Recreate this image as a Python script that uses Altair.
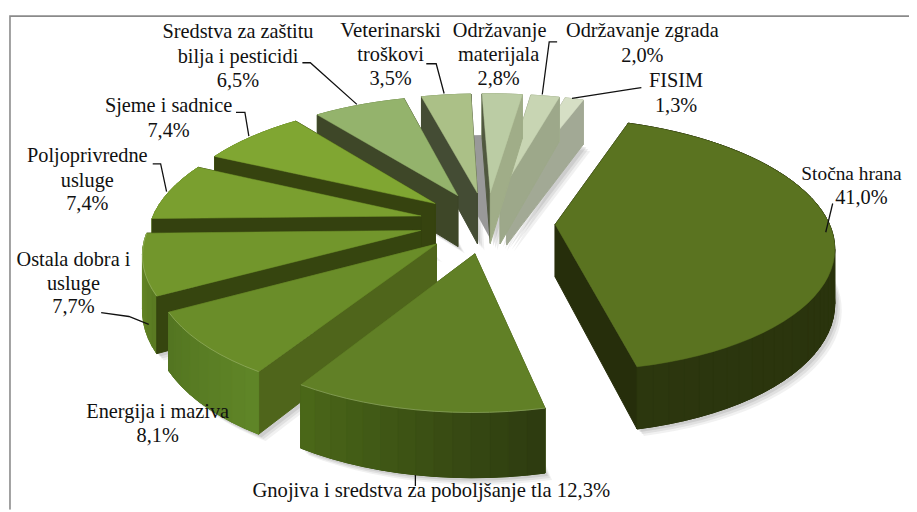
import math
import altair as alt

# ---- values ----
names = ["Stočna hrana", "Gnojiva i sredstva za poboljšanje tla", "Energija i maziva",
         "Ostala dobra i usluge", "Poljoprivredne usluge", "Sjeme i sadnice",
         "Sredstva za zaštitu bilja i pesticidi", "Veterinarski troškovi",
         "Održavanje materijala", "Održavanje zgrada", "FISIM"]
shares = [41.0, 12.3, 8.1, 7.7, 7.4, 7.4, 6.5, 3.5, 2.8, 2.0, 1.3]

# ---- styles ----
top_col = ["#5a7320", "#618026", "#6a8d29", "#72962c", "#7a9f2f", "#80a632",
           "#94b36c", "#abc087", "#bbcca4", "#c8d5b3", "#d6dfc5"]
start_wall = ["#262e0b", "#4a6018", "#4f651b", "#36450f", "#34410f", "#36430f",
              "#3e4728", "#444c34", "#50583f", "#8f9a7c", "#a2a995"]
end_wall = ["#262e0b", "#4a6018", "#4f651b", "#36450f", "#34410f", "#36430f",
            "#3e4728", "#444c34", "#a0ad88", "#9da88a", "#a2a995"]
rim_a = ["#262e0b", "#2e3c10", "#5f8527", "#5a7a22", "#6f922c", "#6f922c",
         "#7f9a5c", "#93a876", "#a3b48c", "#aebb9a", "#bcc5aa"]
rim_b = ["#2c370e", "#4c6a19", "#527320", "#6f922c", "#6f922c", "#6f922c",
         "#7f9a5c", "#93a876", "#a3b48c", "#aebb9a", "#bcc5aa"]

# ---- 3D layout of the pie (page pixels) ----
CX, CY, RX, KR, PERSP, DEPTH, EXPLODE, ROT = 491, 222, 276, 124, 0.156, 53, 0.25, 20
WEST = 0.988
PAGE = 8


def proj(X, Y, drop=0.0):
    s = 1 / (1 + PERSP * Y)
    w = WEST if X < 0 else 1.0
    return [CX + RX * X * s * w - PAGE, CY - KR * Y * s + drop * s - PAGE]


def feat(coords, fill, stroke=None, opacity=1.0, sw=1.0):
    kind = "Polygon" if fill != "transparent" else "LineString"
    geom = {"type": kind, "coordinates": [coords + [coords[0]]] if kind == "Polygon" else coords}
    return {"type": "Feature", "geometry": geom,
            "properties": {"fill": fill, "stroke": stroke or fill, "op": opacity, "sw": sw}}


def mix(a, b, t):
    ca = [int(a[i:i + 2], 16) for i in (1, 3, 5)]
    cb = [int(b[i:i + 2], 16) for i in (1, 3, 5)]
    return "#" + "".join(f"{round(x + (y - x) * t):02x}" for x, y in zip(ca, cb))


def ang(a):
    r = math.radians(a)
    return math.sin(r), math.cos(r)


spans, acc = [], ROT
for v in shares:
    spans.append((acc, acc + v * 3.6))
    acc += v * 3.6

shadows, bodies = [], {}
for i, (a0, a1) in enumerate(spans):
    ox, oy = ang((a0 + a1) / 2)
    ox, oy = ox * EXPLODE, oy * EXPLODE
    n = max(3, int((a1 - a0) / 3))
    arc = [a0 + (a1 - a0) * j / n for j in range(n + 1)]
    rim = [(ox + ang(t)[0], oy + ang(t)[1]) for t in arc]
    apex = (ox, oy)
    poly = [apex] + rim
    top = [proj(x, y) for x, y in poly]
    bottom = [proj(x, y, DEPTH) for x, y in poly]
    # soft shadow
    for off, op in ((7, 0.10), (5, 0.14), (3, 0.18)):
        shadows.append(feat([[p[0] + off, p[1] + off] for p in bottom], "#7a7a7a", opacity=op, sw=0))
    if i == 7:
        shadows.append(feat([[p[0] + 14, p[1] - 3] for p in bottom], "#999999", sw=0))
    walls = []

    def wall(p, q, col, ny):
        walls.append((ny, feat([proj(*p), proj(*q), proj(*q, DEPTH), proj(*p, DEPTH)], col)))

    wall(apex, rim[0], start_wall[i], ang(a0 - 90)[1])
    wall(apex, rim[-1], end_wall[i], ang(a1 + 90)[1])
    for j in range(n):
        wall(rim[j], rim[j + 1], mix(rim_a[i], rim_b[i], j / n), ang((arc[j] + arc[j + 1]) / 2)[1])
    walls.sort(key=lambda w: -w[0])
    band = [proj(x, y) for x, y in rim] + [proj(x, y, DEPTH) for x, y in reversed(rim)]
    base = feat(band, mix(rim_a[i], rim_b[i], 0.5))
    face = [base] + [w[1] for w in walls] + [feat(top, top_col[i], sw=0.5)]
    front = [proj(*rim[j]) for j in range(n + 1) if ang(arc[j])[1] < 0]
    if len(front) > 1 and i != 0:
        face.append(feat(front, "transparent", mix(top_col[i], "#ffffff", 0.25), sw=0.8))
    bodies[i] = face

features = list(shadows)
for i in [10, 9, 8, 7, 6, 5, 4, 3, 2, 1, 0]:
    features += bodies[i]

# leader lines and frame
leaders = [
    [[305, 61], [313, 61], [360, 103]],
    [[430, 62], [440, 62], [448, 92]],
    [[562, 40], [554, 40], [547, 93]],
    [[647, 86], [640, 87], [577, 97]],
    [[840, 203], [833, 232]],
    [[238, 111], [247, 111], [251, 135]],
    [[154, 163], [162, 163], [168, 191]],
    [[102, 313], [130, 317], [150, 325]],
    [[419, 477], [419, 488]],
]
for line in leaders:
    features.append(feat([[x - PAGE, y - PAGE] for x, y in line], "transparent", "#111111", sw=1.3))
features.append(feat([[10 - PAGE, 512 - PAGE], [10 - PAGE, 14 - PAGE], [917 - PAGE, 14 - PAGE]],
                     "transparent", "#8a8a8a", sw=1.6))

labels = [
    ("Sredstva za zaštitu", 240, 30, 20.5), ("bilja i pesticidi", 240, 55, 20.5), ("6,5%", 240, 79, 20.5),
    ("Veterinarski", 394, 29, 21), ("troškovi", 394, 53, 20.5), ("3,5%", 394, 77, 20.5),
    ("Održavanje", 504, 29, 20.5), ("materijala", 503, 53, 20.5), ("2,8%", 503, 77, 20.5),
    ("Održavanje zgrada", 648, 29, 20.5), ("2,0%", 648, 54, 20.5),
    ("FISIM", 682, 79, 20.5), ("1,3%", 682, 105, 20.5),
    ("Stočna hrana", 859, 173, 19.5), ("41,0%", 869, 198, 20.5),
    ("Sjeme i sadnice", 170, 105, 20.5), ("7,4%", 170, 130, 20.5),
    ("Poljoprivredne", 88, 155, 20.5), ("usluge", 88, 180, 20.5), ("7,4%", 88, 204, 20.5),
    ("Ostala dobra i", 74, 260, 20.5), ("usluge", 74, 284, 20.5), ("7,7%", 74, 307, 20.5),
    ("Energija i maziva", 159, 413, 20.5), ("8,1%", 159, 438, 20.5),
    ("Gnojiva i sredstva za poboljšanje tla 12,3%", 435, 493, 20.8),
]
label_rows = [{"t": t, "lon": x - PAGE, "lat": y - PAGE, "fs": fs} for t, x, y, fs in labels]

shapes = alt.Chart(alt.Data(values=features)).mark_geoshape(fillOpacity=1, strokeOpacity=1).encode(
    fill=alt.Fill("properties.fill:N", scale=None),
    stroke=alt.Stroke("properties.stroke:N", scale=None),
    strokeWidth=alt.StrokeWidth("properties.sw:Q", scale=None),
    opacity=alt.Opacity("properties.op:Q", scale=None),
).project(type="identity", scale=1, translate=[0, 0])

text = alt.Chart(alt.Data(values=label_rows)).mark_text(
    font="Liberation Serif", color="#111111", align="center", baseline="middle"
).encode(longitude="lon:Q", latitude="lat:Q", text="t:N",
         size=alt.Size("fs:Q", scale=None)).project(
    type="identity", scale=1, translate=[0, 0])

chart = alt.layer(shapes, text).properties(
    width=909, height=504, padding=0, autosize=alt.AutoSizeParams(type="none")
).configure_view(stroke=None).configure(background="white")

chart.save("out.html", embed_options={"renderer": "svg", "actions": False})
